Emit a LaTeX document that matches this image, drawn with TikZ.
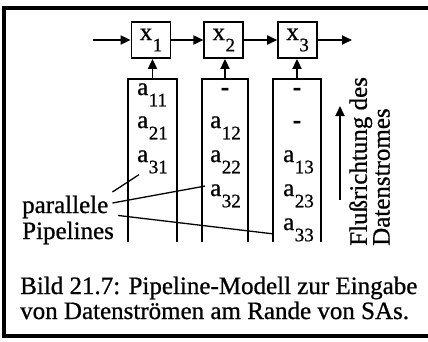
\documentclass[tikz,border=0pt]{standalone}
\usepackage{fontspec}
\setmainfont{Liberation Serif}[FakeBold=0.8]
\usetikzlibrary{arrows.meta, positioning, calc}
\newcommand{\idx}[1]{\kern0.5pt\raisebox{-0.45em}{\fontsize{19}{19}\selectfont #1}}

\begin{document}
\begin{tikzpicture}[
    x=1pt, y=-1pt,
    node distance = 32pt,
    every node/.style = {font=\fontsize{25}{26}\selectfont, inner sep=0pt},
    cell/.style = {
      rectangle, draw, line width=1.8pt,
      minimum width=39pt, minimum height=36pt
    },
    entry/.style = {anchor=base west},
    gap/.style = {anchor=base, font=\fontsize{25}{26}\selectfont\bfseries},
    col/.style = {line width=1.8pt},
    thin/.style = {line width=1.3pt},
    arr/.style = {-{Triangle[length=10pt, width=9pt]}, line width=1.8pt},
  ]
  \useasboundingbox (0,0) rectangle (428,341);
  \draw[line width=3.5pt] (440,8) -| (4,336) -- (440,336);
  % processing cells
  \node[cell] (x1) at (151,40) {x\idx{1}};
  \node[cell, right=of x1] (x2) {x\idx{2}};
  \node[cell, right=33pt of x2] (x3) {x\idx{3}};
  \coordinate (in) at (93,40);
  \coordinate (out) at (352,40);
  \draw[arr] (in) -- (x1.west);
  \draw[arr] (x1) -- (x2);
  \draw[arr] (x2) -- (x3);
  \draw[arr] (x3.east) -- (out);
  % pipelines
  \foreach \n/\l/\r in {1/128/177, 2/202/248, 3/273/321} {
    \draw[col] (\l,242) |- (\r,79) -- (\r,242);
    \coordinate (top\n) at ({(\l+\r)/2},79);
  }
  \draw[arr] (top1) -- (top1 |- x1.south);
  \draw[arr] (top2) -- (top2 |- x2.south);
  \draw[arr] (top3) -- (top3 |- x3.south);
  \node[entry] (a11) at (137,95) {a\idx{11}};
  \node[entry] (a21) at (137,128) {a\idx{21}};
  \node[entry] (a31) at (137,162) {a\idx{31}};
  \node[gap] (g12) at (225,95) {-};
  \node[entry] (a12) at (210,128) {a\idx{12}};
  \node[entry] (a22) at (210,162) {a\idx{22}};
  \node[entry] (a32) at (210,196) {a\idx{32}};
  \node[gap] (g13) at (297,95) {-};
  \node[gap] (g23) at (297,128) {-};
  \node[entry] (a13) at (283,162) {a\idx{13}};
  \node[entry] (a23) at (283,196) {a\idx{23}};
  \node[entry] (a33) at (283,230) {a\idx{33}};
  % labels
  \node[anchor=base west] (par) at (22,213) {parallele};
  \node[anchor=base west] (pip) at (22,239) {Pipelines};
  \draw[thin] ($(par.east)+(4,-15)$) -- ($(a31.south west)+(2,1)$);
  \draw[thin] ($(par.east)+(4,-4)$) -- ($(a32.north west)+(-5,2)$);
  \draw[thin] ($(pip.north east)+(4,-6)$) -- ($(a33.west)+(-10,4)$);
  \node[rotate=90, anchor=north west, align=left,
        font=\fontsize{25}{19.5}\selectfont] (flow) at (349,246)
    {Flußrichtung des\\Datenstromes};
  \coordinate (fb) at (340,200);
  \coordinate (ft) at (340,106);
  \draw[arr] (fb) -- (ft);
  % caption
  \node[anchor=base west] (cap1) at (20,294)
    {Bild 21.7: Pipeline-Modell zur Eingabe};
  \node[anchor=base west] (cap2) at (20,319)
    {von Datenströmen am Rande von SAs.};
\end{tikzpicture}
\end{document}
